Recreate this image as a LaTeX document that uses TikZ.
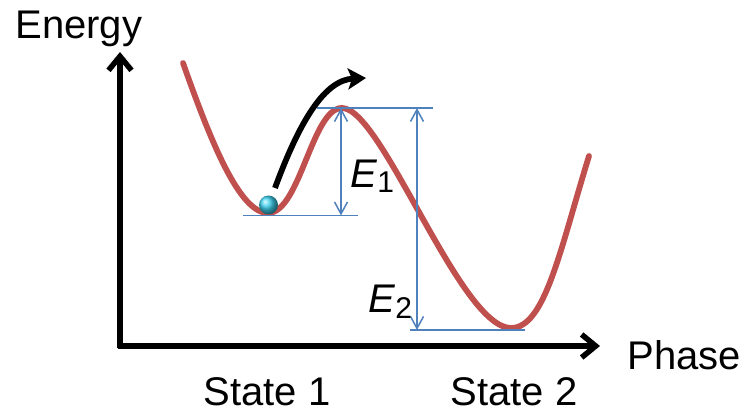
\documentclass[tikz,border=0pt]{standalone}
\usepackage{fontspec}
\setmainfont{Liberation Sans}
\usetikzlibrary{arrows.meta,positioning}
\definecolor{curvered}{HTML}{C0504D}
\definecolor{levelblue}{HTML}{4F81BD}
\definecolor{ballcyan}{HTML}{3CD2F0}

\begin{document}
\begin{tikzpicture}[x=0.5pt,y=-0.5pt,
  labeltext/.style={font=\fontsize{20}{24}\selectfont,inner sep=0pt},
  axis/.style={line width=2.75pt,-{Straight Barb[length=7pt,width=11.5pt]}},
  energy/.style={curvered,line width=2.9pt,line cap=round},
  level/.style={levelblue,line width=0.75pt},
  gap/.style={level,{Straight Barb[length=6pt,width=6.5pt]}-{Straight Barb[length=6pt,width=6.5pt]}},
  jump/.style={line width=2.9pt,-{Stealth[length=9pt,width=10.5pt,inset=2pt]}}]
  \useasboundingbox (0,0) rectangle (744,411);

  % Axes.
  \coordinate (ybase) at (120,348);
  \coordinate (ytip) at (120,52);
  \coordinate (xbase) at (118,346);
  \coordinate (xtip) at (600,346);
  \draw[axis] (ybase) -- (ytip);
  \draw[axis] (xbase) -- (xtip);

  \node[labeltext,anchor=base west] (energy) at (15,39) {Energy};
  \node[labeltext,anchor=base west] (phase) at (627,369) {Phase};
  \node[labeltext,anchor=base] (state1) at (267,405) {State 1};
  \node[labeltext,anchor=base] (state2) at (514,405) {State 2};

  % Energy landscape with two wells.
  \draw[energy] (183,63) .. controls (212,145) and (240,213) .. (268,213)
    .. controls (300,213) and (312,108) .. (342,108)
    .. controls (382,108) and (460,328) .. (511,328)
    .. controls (545,328) and (560,250) .. (589,156);

  % Reference levels and barrier heights.
  \coordinate (min1L) at (243,215.5);
  \coordinate (min1R) at (358,215.5);
  \coordinate (peakL) at (317,108);
  \coordinate (peakR) at (433,108);
  \coordinate (min2L) at (410,330);
  \coordinate (min2R) at (525,330);
  \draw[level] (min1L) -- (min1R);
  \draw[level] (peakL) -- (peakR);
  \draw[level] (min2L) -- (min2R);

  \coordinate (e1top) at (341,108);
  \coordinate (e1bot) at (341,215.5);
  \coordinate (e2top) at (417,108);
  \coordinate (e2bot) at (417,330);
  \draw[gap] (e1top) -- (e1bot);
  \draw[gap] (e2top) -- (e2bot);

  \node[labeltext,anchor=base west] (e1) at (350,188)
    {\textit{E}\raisebox{-2.5pt}{\fontsize{15}{18}\selectfont 1}};
  \node[labeltext,anchor=base west] (e2) at (368,313)
    {\textit{E}\raisebox{-2.5pt}{\fontsize{15}{18}\selectfont 2}};

  % Particle in the first well and its escape.
  \node[circle,minimum size=9.5pt,inner sep=0pt,shading=ball,ball color=ballcyan] (ball) at (268.5,205) {};
  \coordinate (jumpstart) at (275,188);
  \coordinate (jumpend) at (366,78);
  \draw[jump] (jumpstart) .. controls (300,120) and (325,80) .. (jumpend);
\end{tikzpicture}
\end{document}
